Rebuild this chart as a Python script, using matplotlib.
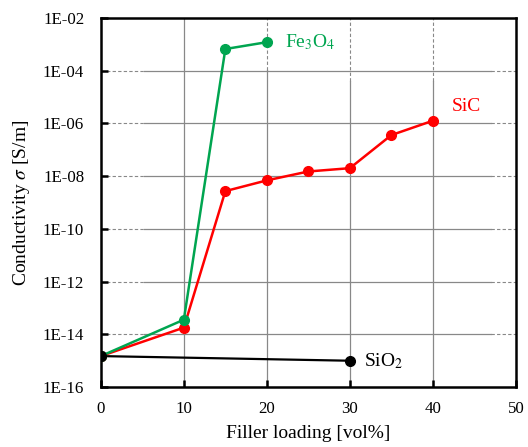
import matplotlib
matplotlib.use("Agg")
import matplotlib.pyplot as plt
import numpy as np

plt.rcParams["font.family"] = ["Liberation Serif", "DejaVu Serif"]
plt.rcParams["mathtext.fontset"] = "stix"

# filler loading [vol%] and conductivity [S/m]
fe3o4_x = [0, 10, 15, 20]
fe3o4_y = [1.5e-15, 3.6e-14, 6.6e-4, 1.2e-3]
sic_x = [0, 10, 15, 20, 25, 30, 35, 40]
sic_y = [1.5e-15, 1.8e-14, 2.7e-9, 6.9e-9, 1.5e-8, 2.0e-8, 3.6e-7, 1.26e-6]
sio2_x = [0, 30]
sio2_y = [1.5e-15, 1.0e-15]

x_ticks = [0, 10, 20, 30, 40, 50]
y_exps = [-16, -14, -12, -10, -8, -6, -4, -2]

GREEN = "#00A550"
RED = "#FF0000"

fig = plt.figure(figsize=(5.28, 4.47), dpi=100)
ax = fig.add_axes([0.191, 0.134, 0.786, 0.826])
ax.set_yscale("log")
ax.set_xlim(0, 50)
ax.set_ylim(1e-16, 1e-2)

# grid: solid in the middle, dashed at the ends (as in the original)
for e in y_exps[1:-1]:
    v = 10.0 ** e
    ax.axhline(v, 0.0, 0.105, color="#888888", lw=0.8, ls=(0, (3, 2)), zorder=0)
    ax.axhline(v, 0.105, 0.94, color="#888888", lw=0.9, zorder=0)
    ax.axhline(v, 0.94, 1.0, color="#888888", lw=0.8, ls=(0, (3, 2)), zorder=0)
for t in x_ticks[1:-1]:
    top = {10: 1.0, 20: 0.86}.get(t, 0.83)
    ax.axvline(t, 0.0, top, color="#888888", lw=0.9, zorder=0)
    if top < 1.0:
        ax.axvline(t, top, 1.0, color="#888888", lw=0.8, ls=(0, (3, 2)), zorder=0)

ax.plot(sio2_x, sio2_y, color="black", lw=1.6, marker="o", ms=7, zorder=3)
ax.plot(sic_x, sic_y, color=RED, lw=1.8, marker="o", ms=7, zorder=4)
ax.plot(fe3o4_x, fe3o4_y, color=GREEN, lw=1.8, marker="o", ms=7, zorder=5)
ax.plot(sio2_x[:1], sio2_y[:1], color="black", marker="o", ms=7, lw=0, zorder=6)

ax.text(22.2, fe3o4_y[-1], r"Fe$_3$O$_4$", color=GREEN, fontsize=14,
        va="center", ha="left")
ax.text(42.3, 4.2e-6, "SiC", color=RED, fontsize=14, va="center", ha="left")
ax.text(31.7, 0.95e-15, r"SiO$_2$", color="black", fontsize=14,
        va="center", ha="left")

ax.set_xticks(x_ticks)
ax.set_yticks([10.0 ** e for e in y_exps])
ax.set_yticklabels([f"1E-{-e:02d}" for e in y_exps])
ax.minorticks_off()
ax.tick_params(direction="in", length=5, width=1.8, labelsize=12.2)
ax.tick_params(axis="x", pad=10)
ax.tick_params(axis="y", pad=12)
for s in ax.spines.values():
    s.set_linewidth(1.8)

ax.set_xlabel("Filler loading [vol%]", fontsize=14, labelpad=6)
ax.set_ylabel(r"Conductivity $\sigma$ [S/m]", fontsize=14, labelpad=8)

fig.savefig("out.png", dpi=100)
